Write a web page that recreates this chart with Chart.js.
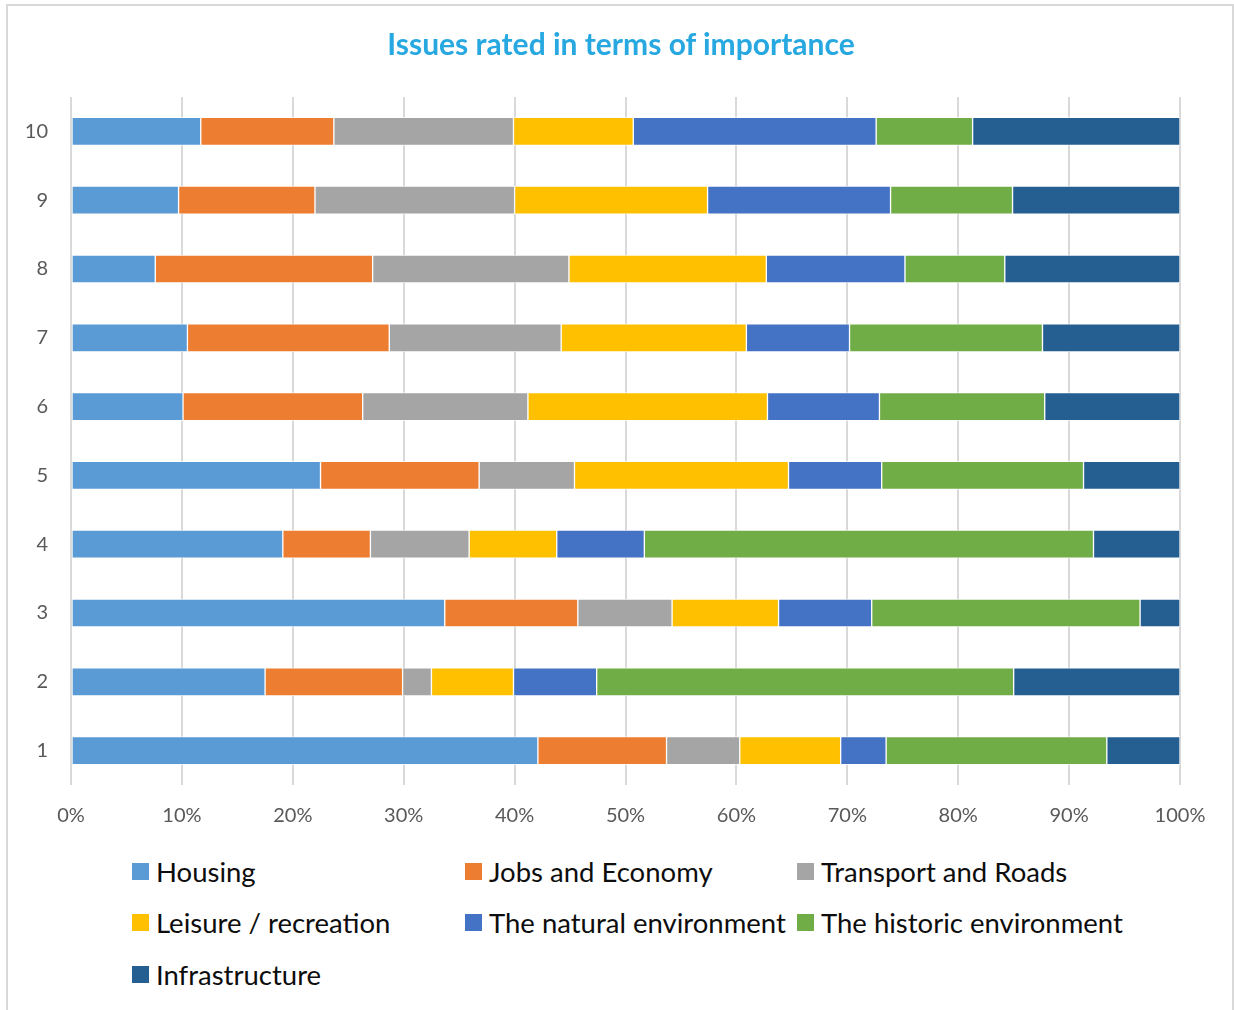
<!DOCTYPE html>
<html>
<head>
<meta charset="utf-8">
<script src="https://cdn.jsdelivr.net/npm/chart.js@4"></script>
<style>
  body { margin: 0; background: #fff; font-family: Lato, "Open Sans", sans-serif; }
  #frame { position: absolute; left: 6px; top: 4px; width: 1224px; height: 1020px; border: 2px solid #d9d9d9; }
  #chart { position: absolute; left: 0; top: 0; }
  #title { position: absolute; left: 0; width: 1242px; top: 24px; text-align: center;
           font-size: 30px; font-weight: bold; color: #27A8E0; line-height: 38px; }
  #legend { position: absolute; left: 132px; top: 852px; display: grid;
            grid-template-columns: 333px 332px auto; grid-auto-rows: 51.5px; }
  .item { display: flex; align-items: center; height: 38px; font-size: 27.5px; color: #0d0d0d; white-space: nowrap; }
  .box { width: 17px; height: 17px; margin-right: 7px; flex: none; }
</style>
</head>
<body>
<div id="frame"></div>
<canvas id="chart" width="1234" height="840"></canvas>
<div id="title">Issues rated in terms of importance</div>
<div id="legend"></div>
<script>
// ============================================================
// Issues rated in terms of importance — 100% stacked bars
// ============================================================

const categories = ['1', '2', '3', '4', '5', '6', '7', '8', '9', '10'];
const xTicks = [0, 10, 20, 30, 40, 50, 60, 70, 80, 90, 100];

// share of responses (%) per rating, index 0 = rating 1
const housing   = [42.1, 17.5, 33.7, 19.1, 22.5, 10.1, 10.5,  7.6,  9.7, 11.7];
const jobs      = [11.6, 12.4, 12.0,  7.9, 14.3, 16.2, 18.2, 19.6, 12.3, 12.0];
const transport = [ 6.6,  2.6,  8.5,  8.9,  8.6, 14.9, 15.5, 17.7, 18.0, 16.2];
const leisure   = [ 9.1,  7.4,  9.6,  7.9, 19.3, 21.6, 16.7, 17.8, 17.4, 10.8];
const natural   = [ 4.1,  7.5,  8.4,  7.9,  8.4, 10.1,  9.3, 12.5, 16.5, 21.9];
const historic  = [19.9, 37.6, 24.2, 40.5, 18.2, 14.9, 17.4,  9.0, 11.0,  8.7];
const infra     = [ 6.6, 15.0,  3.6,  7.8,  8.7, 12.2, 12.4, 15.8, 15.1, 18.7];

const seriesNames = ['Housing', 'Jobs and Economy', 'Transport and Roads', 'Leisure / recreation',
  'The natural environment', 'The historic environment', 'Infrastructure'];
const seriesData = [housing, jobs, transport, leisure, natural, historic, infra];
const seriesColors = ['#5B9BD5', '#ED7D31', '#A5A5A5', '#FFC000', '#4472C4', '#70AD47', '#255E91'];

const FONT = 'Lato, "Open Sans", sans-serif';

const chart = new Chart(document.getElementById('chart'), {
  type: 'bar',
  data: {
    labels: categories,
    datasets: seriesNames.map((name, i) => ({
      label: name,
      data: seriesData[i],
      backgroundColor: seriesColors[i],
      borderColor: 'rgba(255,255,255,0.7)',
      borderWidth: 1,
      borderSkipped: false,
      barThickness: 28
    }))
  },
  options: {
    indexAxis: 'y',
    responsive: false,
    animation: false,
    devicePixelRatio: 1,
    layout: { padding: { left: 0, right: 54, top: 97, bottom: 0 } },
    plugins: {
      legend: { display: false },
      tooltip: { enabled: false },
      title: { display: false }
    },
    scales: {
      x: {
        stacked: true, min: 0, max: 100,
        afterBuildTicks: s => { s.ticks = xTicks.map(v => ({ value: v })); },
        afterFit: s => { s.height = 55; },
        grid: { color: '#d9d9d9', lineWidth: 2, drawTicks: false },
        border: { display: false },
        ticks: { callback: v => v + '%', color: '#595959', padding: 19, font: { family: FONT, size: 20 } }
      },
      y: {
        stacked: true, reverse: true,
        afterFit: s => { s.width = 71; },
        grid: { display: false, drawTicks: false },
        border: { display: false },
        ticks: { color: '#595959', padding: 23, font: { family: FONT, size: 20 } }
      }
    }
  }
});

// legend laid out in three columns as in the original
document.getElementById('legend').innerHTML = seriesNames.map((name, i) => `
  <div class="item"><span class="box" style="background:${seriesColors[i]}"></span>${name}</div>
`).join('');
</script>
</body>
</html>
